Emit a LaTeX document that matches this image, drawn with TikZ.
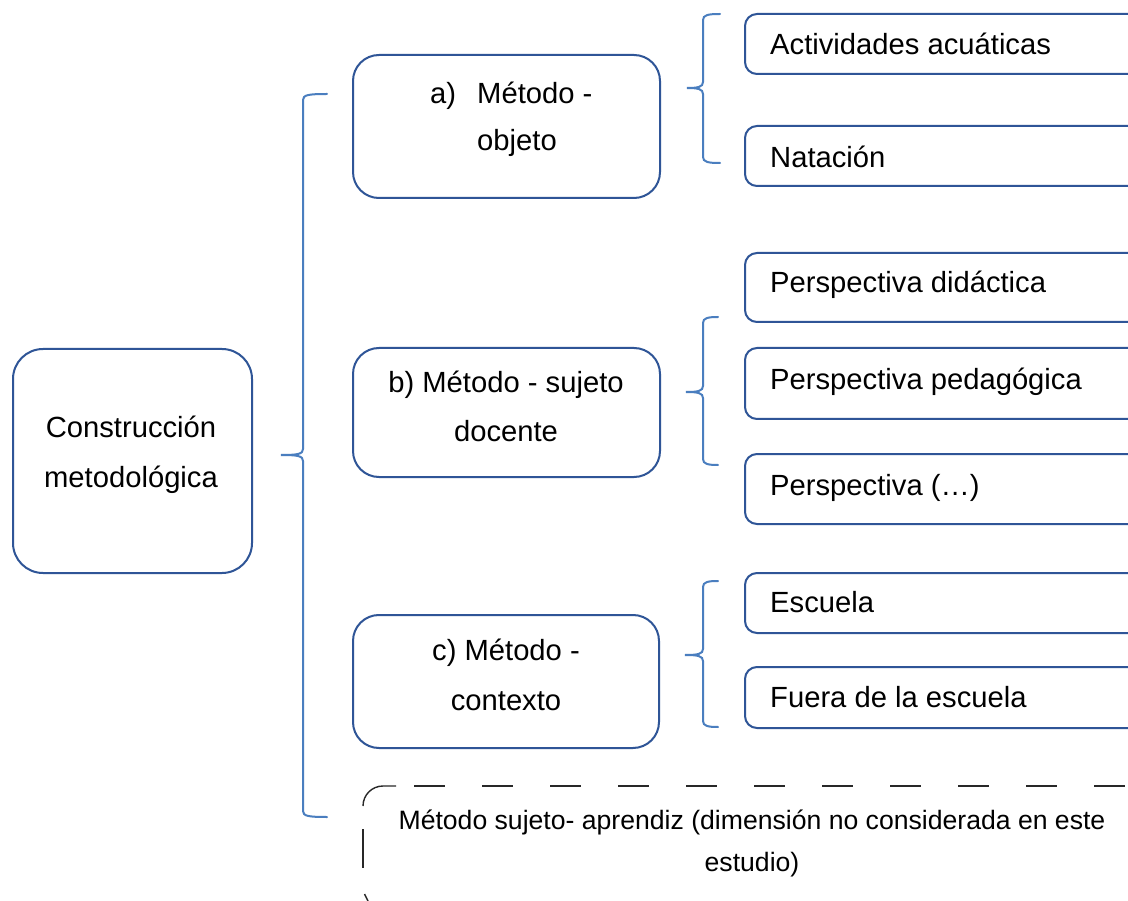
\documentclass[tikz,border=0pt]{standalone}
\usepackage{fontspec}
\setmainfont{Liberation Sans}
\definecolor{boxblue}{RGB}{47,85,151}
\definecolor{braceblue}{RGB}{74,126,191}
\definecolor{dashgray}{RGB}{40,40,40}
\newcommand\drawbrace[6]{% #1 vx, #2 tipx, #3 endx, #4 top, #5 tip, #6 bottom
  \draw[bracestyle] (#3,#4) .. controls (#1+5,#4) and (#1,#4+1) .. (#1,#4+6)
    -- (#1,#5-6) .. controls (#1,#5-1) and (#1-5,#5) .. (#2,#5)
    .. controls (#1-5,#5) and (#1,#5+1) .. (#1,#5+6)
    -- (#1,#6-6) .. controls (#1,#6-1) and (#1+5,#6) .. (#3,#6);}
\begin{document}
\begin{tikzpicture}[x=1pt,y=-1pt,
  mbox/.style={draw=boxblue, line width=2pt, rectangle, inner sep=0pt, outer sep=0pt},
  rbox/.style={draw=boxblue, line width=2pt, rounded corners=12pt},
  txt/.style={inner sep=0pt, font=\fontsize{29.2}{35}\selectfont},
  stxt/.style={inner sep=0pt, font=\fontsize{26.6}{32}\selectfont},
  bracestyle/.style={draw=braceblue, line width=2pt, line cap=round},
  dashline/.style={draw=dashgray, line width=1.4pt}]
\clip (0,0) rectangle (1128,901);
\fill[white] (0,0) rectangle (1128,901);

% main box
\node[mbox, rounded corners=30pt, minimum width=239pt, minimum height=224pt] (main) at (132.5,461) {};
\node[txt, anchor=base] (main1) at (131,438) {Construcción};
\node[txt, anchor=base] (main2) at (131,487) {metodológica};

% method boxes
\node[mbox, rounded corners=26pt, minimum width=307pt, minimum height=143pt] (ma) at (506.5,126.5) {};
\node[txt, anchor=base west] (ma0) at (430,104) {a)};
\node[txt, anchor=base west] (ma1) at (477,104) {Método -};
\node[txt, anchor=base west] (ma2) at (477,151) {objeto};

\node[mbox, rounded corners=26pt, minimum width=307pt, minimum height=129pt] (mb) at (506.5,412.5) {};
\node[txt, anchor=base] (mb1) at (506,393) {b) Método - sujeto};
\node[txt, anchor=base] (mb2) at (506,442) {docente};

\node[mbox, rounded corners=26pt, minimum width=306pt, minimum height=133pt] (mc) at (506,681.5) {};
\node[txt, anchor=base] (mc1) at (506,660) {c) Método -};
\node[txt, anchor=base] (mc2) at (506,710) {contexto};

% right boxes (cut by the right edge)
\draw[rbox] (745,14) rectangle (1160,74);
\node[txt, anchor=base west] (r1) at (770,55) {Actividades acuáticas};
\draw[rbox] (745,126) rectangle (1160,186);
\node[txt, anchor=base west] (r2) at (770,168) {Natación};
\draw[rbox] (745,253) rectangle (1160,322);
\node[txt, anchor=base west] (r3) at (770,293) {Perspectiva didáctica};
\draw[rbox] (745,348) rectangle (1160,419);
\node[txt, anchor=base west] (r4) at (770,390) {Perspectiva pedagógica};
\draw[rbox] (745,454) rectangle (1160,524);
\node[txt, anchor=base west] (r5) at (770,495) {Perspectiva (…)};
\draw[rbox] (745,573) rectangle (1160,633);
\node[txt, anchor=base west] (r6) at (770,612) {Escuela};
\draw[rbox] (745,667) rectangle (1160,728);
\node[txt, anchor=base west] (r7) at (770,707) {Fuera de la escuela};

% braces
\drawbrace{303}{281}{327}{94}{455}{817}
\drawbrace{703}{687}{720}{14}{88}{163}
\drawbrace{703}{686}{718}{317}{392}{465}
\drawbrace{703}{685}{718}{581}{655}{727}

% dashed box (partly drawn)
\draw[dashline] (363,806) arc[start angle=180, end angle=270, radius=20] -- (396,786);
\draw[dashline, dash pattern=on 31pt off 37pt] (414,786) -- (1160,786);
\draw[dashline] (363,829) -- (363,868);
\draw[dashline] (364.5,894) -- (368,901);
\node[stxt, anchor=base] (d1) at (752,829) {Método sujeto- aprendiz (dimensión no considerada en este};
\node[stxt, anchor=base] (d2) at (752,871) {estudio)};
\end{tikzpicture}
\end{document}
